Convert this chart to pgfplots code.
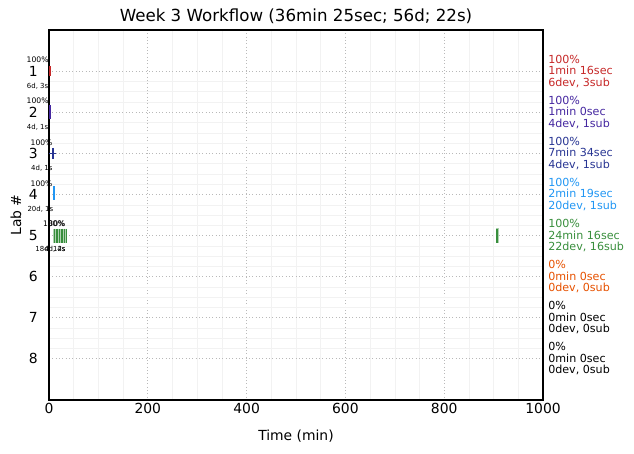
\documentclass[border=0pt]{standalone}
\usepackage{pgfplots}
\pgfplotsset{compat=1.18}
\usepackage{fontspec}
\setmainfont{DejaVu Sans}
\definecolor{c1}{HTML}{C62828}
\definecolor{c2}{HTML}{4527A0}
\definecolor{c3}{HTML}{283593}
\definecolor{c4}{HTML}{2196F3}
\definecolor{c5}{HTML}{388E3C}
\definecolor{c6}{HTML}{E65100}
\begin{document}
\begin{tikzpicture}
\begin{axis}[
  scale only axis, width=355.68pt, height=266.4pt,
  xmin=0, xmax=1000, ymin=0, ymax=9, y dir=reverse,
  xtick={0,200,400,600,800,1000}, ytick={1,2,3,4,5,6,7,8},
  minor x tick num=3, minor y tick num=3,
  grid=both,
  major grid style={gray!55, dotted, line width=0.6pt},
  minor grid style={gray!10, line width=0.3pt},
  tick style={draw=none},
  axis line style={line width=0.8pt},
  xlabel={Time (min)}, ylabel={Lab \#},
  xlabel style={font=\fontsize{10}{12}\selectfont, at={(axis description cs:0.5,0)}, anchor=base, yshift=-28.8pt},
  ylabel style={font=\fontsize{10}{12}\selectfont, at={(axis description cs:-0.067,0.5)}, anchor=center},
  xticklabel style={font=\fontsize{10}{12}\selectfont, anchor=base, inner sep=0pt, yshift=-10pt},
  yticklabel style={font=\fontsize{10}{12}\selectfont, anchor=east, inner sep=0pt, xshift=-8pt},
  /pgf/number format/assume math mode=true,
  /pgf/number format/1000 sep={},
  clip=false,
]
% Lab 1
\addplot[only marks, mark=|, mark size=3.6pt, mark options={c1, line width=1.3pt}] coordinates {(2,1)};
% Lab 2
\addplot[only marks, mark=|, mark size=5pt, mark options={c2, line width=1.3pt}] coordinates {(2,2)};
% Lab 3
\addplot[c3, line width=1pt] coordinates {(1,3) (14,3)};
\addplot[only marks, mark=|, mark size=4pt, mark options={c3, line width=1.4pt}] coordinates {(8,3)};
% Lab 4
\addplot[only marks, mark=|, mark size=5pt, mark options={c4, line width=1.6pt}] coordinates {(10,3.97)};
% Lab 5
\addplot[fill=c5!40, draw=none] coordinates {(8,4.83) (37,4.83) (37,5.17) (8,5.17)} -- cycle;
\addplot[fill=c5!40, draw=none] coordinates {(904,4.82) (910,4.82) (910,5.18) (904,5.18)} -- cycle;
\addplot[only marks, mark=|, mark size=5pt, mark options={c5, line width=1.1pt}] coordinates {(11,5) (16,5) (21,5) (26,5) (31,5) (35,5) (907,5)};

% title
\node[font=\fontsize{12}{14}\selectfont, anchor=base, inner sep=0pt] at (axis description cs:0.5,1) [yshift=6pt] {Week 3 Workflow (36min 25sec; 56d; 22s)};

% left annotations
\node[font=\fontsize{5.5}{6}\selectfont, inner sep=0pt] at (axis cs:-23,0.73) {100\%};
\node[font=\fontsize{5}{6}\selectfont, inner sep=0pt] at (axis cs:-23,1.36) {6d, 3s};
\node[font=\fontsize{5.5}{6}\selectfont, inner sep=0pt] at (axis cs:-23,1.73) {100\%};
\node[font=\fontsize{5}{6}\selectfont, inner sep=0pt] at (axis cs:-23,2.36) {4d, 1s};
\node[font=\fontsize{5.5}{6}\selectfont, inner sep=0pt] at (axis cs:-15,2.73) {100\%};
\node[font=\fontsize{5}{6}\selectfont, inner sep=0pt] at (axis cs:-14.5,3.36) {4d, 1s};
\node[font=\fontsize{5.5}{6}\selectfont, inner sep=0pt] at (axis cs:-15,3.73) {100\%};
\node[font=\fontsize{5}{6}\selectfont, inner sep=0pt] at (axis cs:-17.5,4.36) {20d, 1s};
\node[font=\fontsize{5.5}{6}\selectfont, inner sep=0pt] at (axis cs:10,4.72) {100\%};
\node[font=\fontsize{5.5}{6}\selectfont, inner sep=0pt] at (axis cs:16,4.72) {30\%};
\node[font=\fontsize{5}{6}\selectfont, inner sep=0pt] at (axis cs:3,5.33) {18d, 14s};
\node[font=\fontsize{5}{6}\selectfont, inner sep=0pt] at (axis cs:12,5.33) {4d, 2s};

% right annotations
\tikzset{rl/.style={anchor=west, align=left, inner sep=0pt, xshift=3.6pt, font=\fontsize{8}{8.3}\selectfont}}
\node[rl, text=c1] at (axis cs:1000,1) {100\%\\1min 16sec\\6dev, 3sub};
\node[rl, text=c2] at (axis cs:1000,2) {100\%\\1min 0sec\\4dev, 1sub};
\node[rl, text=c3] at (axis cs:1000,3) {100\%\\7min 34sec\\4dev, 1sub};
\node[rl, text=c4] at (axis cs:1000,4) {100\%\\2min 19sec\\20dev, 1sub};
\node[rl, text=c5] at (axis cs:1000,5) {100\%\\24min 16sec\\22dev, 16sub};
\node[rl, text=c6] at (axis cs:1000,6) {0\%\\0min 0sec\\0dev, 0sub};
\node[rl, text=black] at (axis cs:1000,7) {0\%\\0min 0sec\\0dev, 0sub};
\node[rl, text=black] at (axis cs:1000,8) {0\%\\0min 0sec\\0dev, 0sub};
\end{axis}
\pgfresetboundingbox
\path (-35.28pt,-38.16pt) rectangle (421.2pt,288pt);
\end{tikzpicture}
\end{document}
